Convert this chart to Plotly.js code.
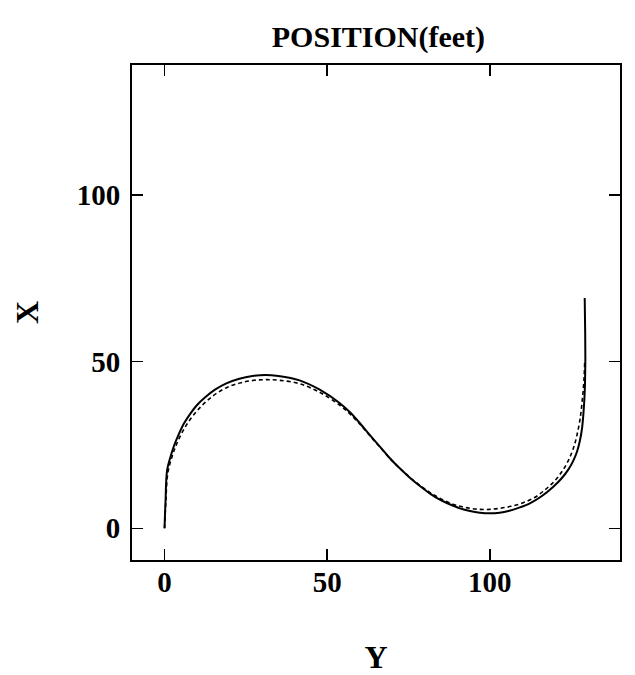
<!DOCTYPE html>
<html>
<head>
<meta charset="utf-8">
<script src="https://cdn.plot.ly/plotly-3.0.1.min.js"></script>
<style>body{margin:0;background:#fff}</style>
</head>
<body>
<div id="chart" style="width:635px;height:675px"></div>
<script>
// Trajectory, solid run: horizontal Y (feet) and vertical X (feet)
const solidY = [0, 0.3, 0.8, 2.0, 3.0, 4.5, 6.0, 8.0, 10.0, 12.5, 15.5, 19.0, 23.0, 27.0, 31.0, 35.0, 41.5, 47.7, 53.8, 57.0, 60.0, 63.0, 66.2, 69.2, 72.3, 75.4, 78.5, 81.5, 84.6, 87.7, 90.8, 93.9, 96.9, 100.0, 103.0, 106.0, 109.0, 112.3, 116.0, 119.5, 122.15, 124.15, 125.7, 126.85, 127.7, 128.3, 128.7, 129.0, 129.2, 129.3, 129.35, 129.3, 129.15];
const solidX = [0, 8.0, 17.5, 22.0, 25.0, 28.5, 31.5, 34.5, 37.0, 39.3, 41.6, 43.5, 44.9, 45.7, 46.0, 45.7, 44.4, 41.6, 37.6, 34.8, 31.6, 28.1, 24.5, 21.1, 18.0, 15.2, 12.7, 10.5, 8.6, 7.2, 6.0, 5.2, 4.7, 4.5, 4.7, 5.3, 6.2, 7.5, 9.7, 12.5, 15.1, 17.7, 20.4, 23.2, 26.4, 29.8, 33.75, 37.95, 42.2, 46.6, 51.2, 58.6, 69.1];

// Trajectory, dashed run
const dashY = [0, 0.4, 1.0, 2.3, 3.4, 5.0, 6.6, 8.6, 10.6, 13.0, 16.0, 19.5, 23.5, 27.5, 31.5, 35.5, 41.5, 47.7, 53.8, 57.0, 60.0, 63.0, 66.2, 69.2, 72.3, 75.4, 78.5, 81.5, 84.6, 87.7, 90.8, 93.9, 96.9, 100.0, 103.0, 106.5, 110.0, 114.0, 117.0, 119.8, 122.0, 123.7, 125.1, 126.2, 127.0, 127.7, 128.2, 128.6, 128.95, 129.15];
const dashX = [0, 8.0, 16.5, 21.5, 24.5, 28.0, 30.8, 33.6, 35.9, 38.2, 40.5, 42.4, 43.7, 44.4, 44.6, 44.4, 43.4, 40.8, 37.0, 34.3, 31.3, 27.9, 24.4, 21.0, 18.0, 15.3, 12.9, 10.8, 9.0, 7.6, 6.6, 6.0, 5.7, 5.7, 6.0, 6.6, 7.6, 9.4, 11.6, 14.1, 16.8, 19.5, 22.5, 25.7, 29.0, 32.6, 36.5, 40.5, 45.0, 50.0];

const tickVals = [0, 50, 100];
const tickText = ['0', '50', '100'];

const serif = '"Liberation Serif", "Times New Roman", serif';

const traces = [
  {
    x: solidY, y: solidX, type: 'scatter', mode: 'lines',
    line: {color: '#000', width: 2, shape: 'spline', smoothing: 1},
    hoverinfo: 'skip', showlegend: false
  },
  {
    x: dashY, y: dashX, type: 'scatter', mode: 'lines',
    line: {color: '#000', width: 1.6, dash: '4px,3px', shape: 'spline', smoothing: 1},
    hoverinfo: 'skip', showlegend: false
  }
];

const axisCommon = {
  tickvals: tickVals, ticktext: tickText,
  ticks: 'inside', ticklen: 11, tickwidth: 1.5, tickcolor: '#000',
  showline: true, linecolor: '#000', linewidth: 2, mirror: 'allticks',
  showgrid: false, zeroline: false,
  tickfont: {family: serif, size: 29, color: '#000', weight: 'bold'},
  automargin: false
};

const layout = {
  width: 635, height: 675,
  paper_bgcolor: '#fff', plot_bgcolor: '#fff',
  margin: {l: 132, r: 15, t: 65, b: 115},
  title: {
    text: 'POSITION(feet)', x: 0.596, xanchor: 'center', y: 0.946, yanchor: 'middle',
    font: {family: serif, size: 30, color: '#000', weight: 'bold'}
  },
  xaxis: Object.assign({}, axisCommon, {
    range: [-10, 140],
    ticklabelstandoff: -5,
    title: {text: 'Y', standoff: 56, font: {family: serif, size: 32, color: '#000', weight: 'bold'}}
  }),
  yaxis: Object.assign({}, axisCommon, {
    range: [-9.5, 139],
    ticklabelstandoff: 4,
    title: {text: 'X', standoff: 29, font: {family: serif, size: 32, color: '#000', weight: 'bold'}}
  })
};

Plotly.newPlot('chart', traces, layout, {displayModeBar: false, staticPlot: true});
</script>
</body>
</html>
